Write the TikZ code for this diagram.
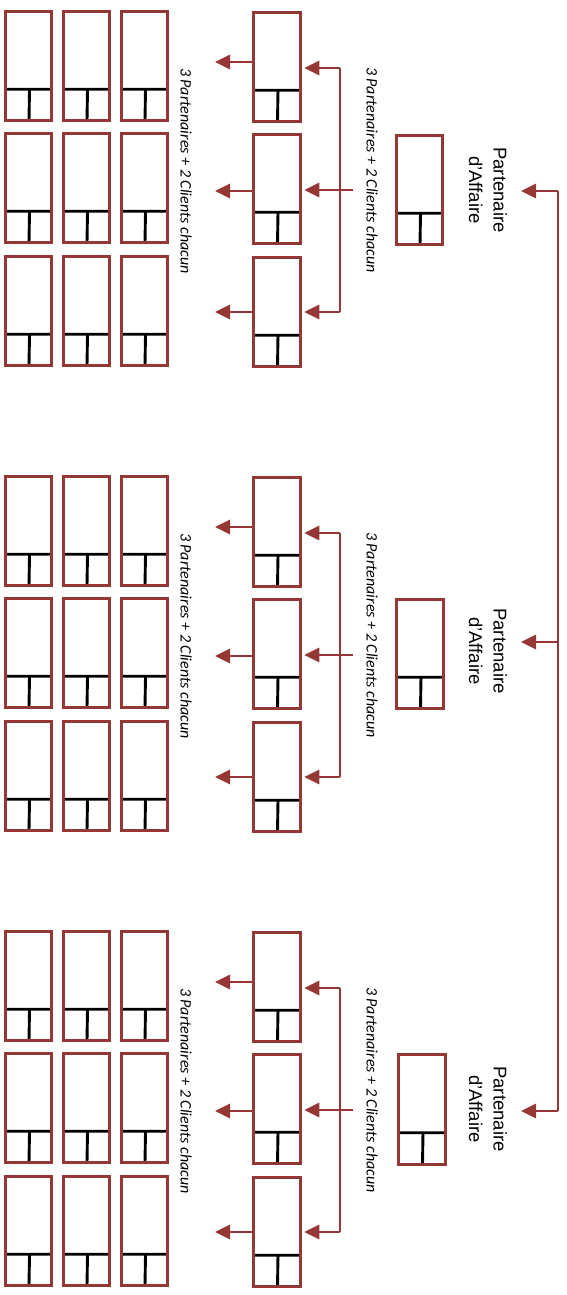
\documentclass[tikz,border=0pt]{standalone}
\usepackage{fontspec}
\setmainfont{Liberation Sans}
\newfontfamily\carl{Carlito}
\usetikzlibrary{arrows.meta}
\definecolor{dred}{RGB}{149,55,53}
\begin{document}
\begin{tikzpicture}[x=1pt,y=-1pt,
  card/.style={draw=dred, line width=3.3pt, fill=white, minimum width=46.5pt,
    minimum height=109.5pt, inner sep=0pt, outer sep=0pt,
    path picture={\draw[black,line width=2.9pt]
      ([yshift=31.5pt]path picture bounding box.south west) --
      ([yshift=31.5pt]path picture bounding box.south east)
      ([xshift=1pt,yshift=31.5pt]path picture bounding box.south) --
      ([xshift=0.5pt]path picture bounding box.south);}},
  conn/.style={draw=dred, line width=2.9pt},
  arr/.style={conn, -{Triangle[length=15pt,width=14pt]}},
  lbl/.style={font=\fontsize{18.5}{24.5}\selectfont, rotate=-90, align=center, inner sep=0pt},
  note/.style={font=\carl\itshape\fontsize{16}{19}\selectfont, rotate=-90, inner sep=0pt}]
\useasboundingbox (0,0) rectangle (566,1295);

% groups of cards
\foreach \g/\o in {1/0,2/465,3/920} {
  \foreach \r/\cy/\gy in {1/67/66,2/189/188,3/312/311} {
    \node[card] (m\g\r) at (277,\cy+\o) {};
    \foreach \c/\cx in {1/28.5,2/86.5,3/144.5}
      \node[card] (g\g\r\c) at (\cx,\gy+\o) {};
  }
  \node[note] (nr\g) at (372,170+\o) {3 Partenaires + 2 Clients chacun};
  \node[note] (nl\g) at (186,171+\o) {3 Partenaires + 2 Clients chacun};
  % bracket
  \coordinate (bt\g) at (340,68+\o);
  \coordinate (bm\g) at (340,190+\o);
  \coordinate (bb\g) at (340,312+\o);
  \coordinate (bs\g) at (353,190+\o);
  \draw[conn] (bt\g) -- (bb\g);
  \draw[conn] (bm\g) -- (bs\g);
  \draw[arr, shorten >=4pt] (bt\g) -- (bt\g -| m\g1.east);
  \draw[arr, shorten >=4pt] (bm\g) -- (bm\g -| m\g2.east);
  \draw[arr, shorten >=4pt] (bb\g) -- (bb\g -| m\g3.east);
  % left arrows
  \coordinate (l1\g) at (215,62+\o);
  \coordinate (l2\g) at (215,191+\o);
  \coordinate (l3\g) at (215,312+\o);
  \draw[arr] (m\g1.west |- l1\g) -- (l1\g);
  \draw[arr] (m\g2.west |- l2\g) -- (l2\g);
  \draw[arr] (m\g3.west |- l3\g) -- (l3\g);
}

% business partners
\node[card] (p1) at (419.5,190) {};
\node[card] (p2) at (420,654) {};
\node[card] (p3) at (422,1109.5) {};
\node[lbl] (pa1) at (488,190) {Partenaire\\d’Affaire};
\node[lbl] (pa2) at (488,651) {Partenaire\\d’Affaire};
\node[lbl] (pa3) at (488,1109) {Partenaire\\d’Affaire};

% spine
\coordinate (s1) at (558,191);
\coordinate (s2) at (558,642);
\coordinate (s3) at (558,1111);
\coordinate (t1) at (521,191);
\coordinate (t2) at (521,642);
\coordinate (t3) at (521,1111);
\draw[conn] (s1) -- (s3);
\draw[arr] (s1) -- (t1);
\draw[arr] (s2) -- (t2);
\draw[arr] (s3) -- (t3);
\end{tikzpicture}
\end{document}
